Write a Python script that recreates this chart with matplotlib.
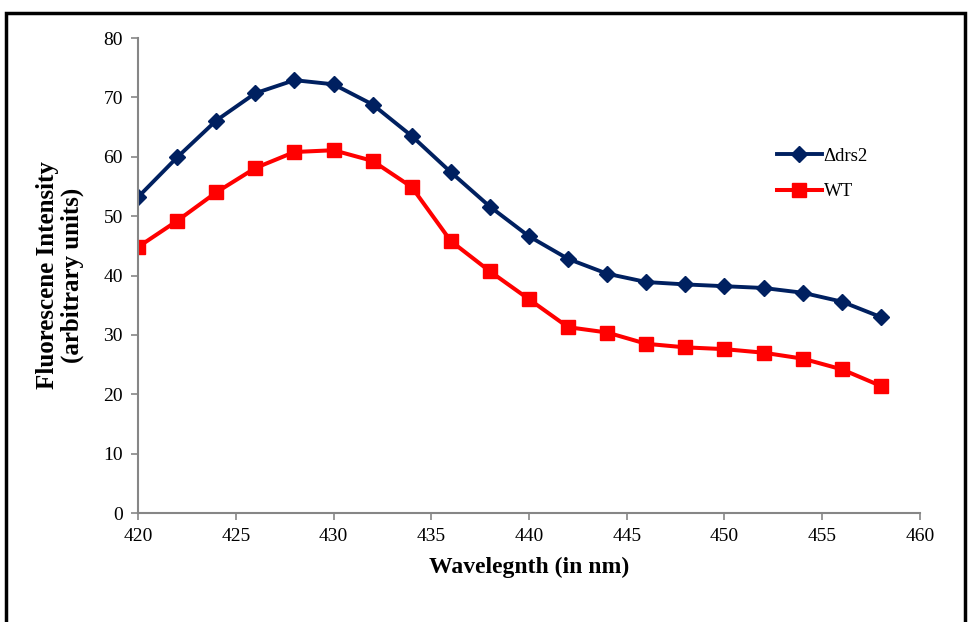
import matplotlib.pyplot as plt
from matplotlib.patches import Rectangle

wavelength = [420, 422, 424, 426, 428, 430, 432, 434, 436, 438,
              440, 442, 444, 446, 448, 450, 452, 454, 456, 458]
drs2 = [53.2, 59.9, 66.1, 70.7, 72.9, 72.2, 68.8, 63.5, 57.4, 51.6,
        46.6, 42.8, 40.3, 38.9, 38.5, 38.2, 37.9, 37.1, 35.6, 33.0]
wt = [44.8, 49.2, 54.0, 58.1, 60.8, 61.1, 59.3, 54.9, 45.8, 40.7,
      36.0, 31.3, 30.4, 28.5, 27.9, 27.6, 27.0, 26.0, 24.2, 21.4]

plt.rcParams['font.family'] = 'Liberation Serif'

fig = plt.figure(figsize=(9.68, 6.22), dpi=100)
ax = fig.add_axes([0.1426, 0.1752, 0.8078, 0.7637])

ax.plot(wavelength, drs2, color='#002060', linewidth=2.8, marker='D',
        markersize=8.5, label='\u0394drs2')
ax.plot(wavelength, wt, color='#ff0000', linewidth=2.9, marker='s',
        markersize=10, label='WT')

ax.set_xlim(420, 460)
ax.set_ylim(0, 80)
ax.set_xticks(range(420, 461, 5))
ax.set_yticks(range(0, 81, 10))

for side in ['top', 'right']:
    ax.spines[side].set_visible(False)
for side in ['left', 'bottom']:
    ax.spines[side].set_color('#868686')
    ax.spines[side].set_linewidth(1.5)
ax.tick_params(direction='out', length=5, width=1.2, color='#868686',
               labelsize=14, pad=6)

ax.set_xlabel('Wavelegnth (in nm)', fontsize=17, fontweight='bold', labelpad=8)
ax.set_ylabel('Fluorescene Intensity\n(arbitrary units)', fontsize=18,
              fontweight='bold', labelpad=14, linespacing=1.05)

ax.legend(loc='upper left', bbox_to_anchor=(0.785, 0.79), frameon=False,
          fontsize=13.5, handlelength=2.4, handletextpad=0.1, labelspacing=1.0,
          bbox_transform=fig.transFigure)

# outer border
fig.patches.append(Rectangle((6 / 968, -0.05), 959 / 968, 1.05 - 13 / 622,
                             transform=fig.transFigure, fill=False,
                             edgecolor='black', linewidth=2.5))

fig.savefig('out.png', dpi=100)
